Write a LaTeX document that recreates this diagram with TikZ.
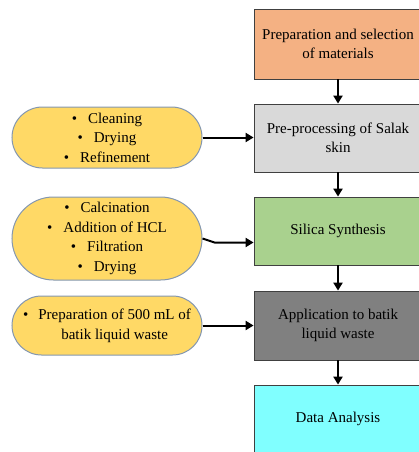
\documentclass[tikz,border=0pt]{standalone}
\usepackage{fontspec}
\setmainfont{Liberation Serif}
\usetikzlibrary{shapes.misc,arrows.meta}
\definecolor{cOrange}{RGB}{244,177,131}
\definecolor{cGray}{RGB}{217,217,217}
\definecolor{cGreen}{RGB}{169,209,142}
\definecolor{cDark}{RGB}{128,128,128}
\definecolor{cCyan}{RGB}{128,255,255}
\definecolor{cPill}{RGB}{255,217,102}
\definecolor{cPillB}{RGB}{132,151,176}
\tikzset{
  box/.style={draw=black!75, line width=0.8pt, minimum width=168pt, inner sep=2pt, align=center, font=\fontsize{15}{19.5}\selectfont},
  pill/.style={rounded rectangle, draw=cPillB, line width=1pt, fill=cPill, minimum width=194pt, inner sep=2pt, align=center, font=\fontsize{15}{19.5}\selectfont},
  arr/.style={line width=2pt, -{Triangle[length=8pt,width=9pt]}}
}
\begin{document}
\begin{tikzpicture}[x=1pt,y=-1pt]
\useasboundingbox (0,0) rectangle (419,452);
\node[box, fill=cOrange, minimum height=70pt] (b1) at (338,44) {Preparation and selection\\of materials};
\node[box, fill=cGray, minimum height=68pt] (b2) at (338,138) {Pre-processing of Salak\\skin};
\node[box, fill=cGreen, minimum height=68pt] (b3) at (338,231) {Silica Synthesis};
\node[box, fill=cDark, minimum height=69pt] (b4) at (338,325.5) {Application to batik\\liquid waste};
\node[box, fill=cCyan, minimum height=68pt] (b5) at (338,419) {Data Analysis};

\node[pill, minimum height=61pt] (p1) at (107,137.5) {\textbullet\hspace{11pt}Cleaning\\\textbullet\hspace{11pt}Drying\\\textbullet\hspace{11pt}Refinement};
\node[pill, minimum height=83pt] (p2) at (107,238.5) {\textbullet\hspace{11pt}Calcination\\\textbullet\hspace{11pt}Addition of HCL\\\textbullet\hspace{11pt}Filtration\\\textbullet\hspace{11pt}Drying};
\node[pill, minimum height=59pt] (p3) at (107,325.5) {\begin{tabular}{@{}c@{\hspace{10pt}}c@{}}\textbullet & Preparation of 500 mL of\\ & batik liquid waste\end{tabular}};

\draw[arr] (b1) -- (b2);
\draw[arr] (b2) -- (b3);
\draw[arr] (b3) -- (b4);
\draw[arr] (b4) -- (b5);
\draw[arr] (p1.east) -- (p1.east -| b2.west);
\draw[arr] (p2.east) -- ++(12,4) coordinate (k) -- (k -| b3.west);
\draw[arr] (p3.east) -- (p3.east -| b4.west);
\end{tikzpicture}
\end{document}
